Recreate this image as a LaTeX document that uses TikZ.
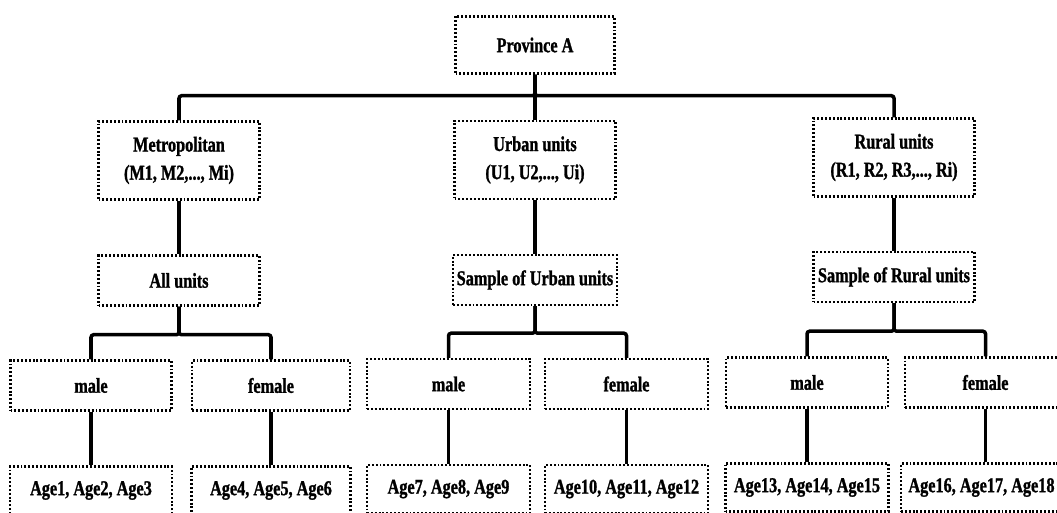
\documentclass[tikz,border=0pt]{standalone}
\usepackage{fontspec}
\setmainfont{Liberation Serif}[FakeStretch=0.77, BoldFeatures={FakeBold=1.2}]
\usepackage{tikz}
\usetikzlibrary{shapes,arrows}
\tikzstyle{unit} = [rectangle, draw, dash pattern=on 1.1pt off 1.1pt, line width=1.4pt,
    align=center, minimum width=3.22cm, inner sep=2pt,
    font=\bfseries\fontsize{12}{16}\selectfont]
\tikzstyle{region} = [unit, minimum height=1.56cm]
\tikzstyle{sample} = [unit, minimum height=1.0cm]
\tikzstyle{sex} = [unit, minimum width=3.22cm, minimum height=1.0cm]
\tikzstyle{age} = [unit, minimum width=3.24cm, minimum height=0.96cm]
\tikzstyle{line} = [draw, line width=2pt, rounded corners=1.5pt]

\begin{document}
\begin{tikzpicture}
      \useasboundingbox (0,0) rectangle (21.14,-10.26);
      \node [unit, minimum width=3.18cm, minimum height=1.14cm] (prov) at (10.7,-0.9) {Province A};
      \node [region] (metro) at (3.58,-3.21) {Metropolitan\\(M1, M2,..., Mi)};
      \node [region] (urban) at (10.7,-3.2) {Urban units\\(U1, U2,..., Ui)};
      \node [region] (rural) at (17.88,-3.15) {Rural units\\(R1, R2, R3,..., Ri)};
      \node [sample, below of=metro, node distance=2.4cm] (all) {All units};
      \node [sample, below of=urban, node distance=2.4cm] (sampU) {Sample of Urban units};
      \node [sample, below of=rural, node distance=2.39cm] (sampR) {Sample of Rural units};
      \node [sex] (m1) at (1.82,-7.71) {male};
      \node [sex, right of=m1, node distance=3.6cm, minimum width=3.16cm] (f1) {female};
      \node [sex, minimum width=3.26cm] (m2) at (8.97,-7.68) {male};
      \node [sex, right of=m2, node distance=3.56cm, minimum width=3.26cm] (f2) {female};
      \node [sex, minimum width=3.24cm] (m3) at (16.14,-7.65) {male};
      \node [sex, right of=m3, node distance=3.57cm, minimum width=3.22cm] (f3) {female};
      \node [age, below of=m1, node distance=2.1cm] (a1) {Age1, Age2, Age3};
      \node [age, below of=f1, node distance=2.1cm, minimum width=3.18cm] (a4) {Age4, Age5, Age6};
      \node [age, below of=m2, node distance=2.1cm, minimum width=3.26cm] (a7) {Age7, Age8, Age9};
      \node [age, below of=f2, node distance=2.1cm, minimum width=3.26cm] (a10) {Age10, Age11, Age12};
      \node [age, below of=m3, node distance=2.1cm, minimum width=3.26cm] (a13) {Age13, Age14, Age15};
      \node [age, below of=f3, node distance=2.1cm, minimum width=3.22cm, xshift=-0.08cm] (a16) {Age16, Age17, Age18};

      \path [line] (prov.south) -- ++(0,-0.42) -| (metro.north);
      \path [line] (prov.south) -- ++(0,-0.42) -| (rural.north);
      \path [line] (prov.south) -- (urban.north);
      \path [line] (metro) -- (all);
      \path [line] (urban) -- (sampU);
      \path [line] (rural) -- (sampR);
      \path [line] (all.south) -- ++(0,-0.56) -| (m1.north);
      \path [line] (all.south) -- ++(0,-0.56) -| (f1.north);
      \path [line] (sampU.south) -- ++(0,-0.54) -| (m2.north);
      \path [line] (sampU.south) -- ++(0,-0.54) -| (f2.north);
      \path [line] (sampR.south) -- ++(0,-0.56) -| (m3.north);
      \path [line] (sampR.south) -- ++(0,-0.56) -| (f3.north);
      \path [line] (m1) -- (a1);
      \path [line] (f1) -- (a4);
      \path [line] (m2) -- (a7);
      \path [line] (f2) -- (a10);
      \path [line] (m3) -- (a13);
      \path [line] (f3) -- (f3 |- a16.north);
   \end{tikzpicture}
\end{document}
